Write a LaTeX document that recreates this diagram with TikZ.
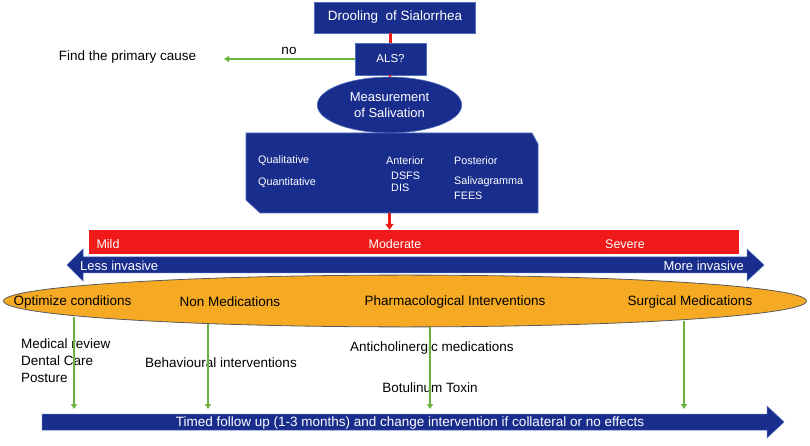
\documentclass[tikz,border=0pt]{standalone}
\usepackage{fontspec}
\setmainfont{Liberation Sans}
\usetikzlibrary{shapes.geometric,arrows.meta}
\definecolor{dblue}{RGB}{25,45,140}
\definecolor{bedge}{RGB}{80,110,190}
\definecolor{sred}{RGB}{240,26,26}
\definecolor{orng}{RGB}{246,170,36}
\definecolor{grn}{RGB}{108,178,62}
\newcommand\myfs[1]{\fontsize{#1bp}{1.2\dimexpr #1bp\relax}\selectfont}
\begin{document}
\begin{tikzpicture}[x=1bp,y=-1bp,
  bbox/.style={draw=bedge,line width=0.6bp,fill=dblue,text=white,inner sep=0pt},
  txt/.style={inner sep=0pt,font=\myfs{13.5}},
  wtxt/.style={inner sep=0pt,text=white},
  btxt/.style={inner sep=0pt,text=white,font=\myfs{10.8},anchor=west},
  garrow/.style={draw=grn,line width=2.2bp,-{Triangle[length=5bp,width=6bp]}},
  rline/.style={draw=sred,line width=2.2bp},
]
\useasboundingbox (0,0) rectangle (810,446);

% top boxes
\node[bbox,minimum width=162,minimum height=31,font=\myfs{13.5}] (drool) at (395,17.5) {Drooling~ of Sialorrhea};
\node[bbox,minimum width=71,minimum height=32,font=\myfs{11.5}] (als) at (390.5,59) {ALS?};
\node[bbox,ellipse,minimum width=145,minimum height=56,font=\myfs{13},align=center] (meas) at (389.5,105) {Measurement\\of Salivation};
\draw[rline] (als.north |- drool.south) -- (als.north);
\draw[rline] (als.south) -- (meas.north);

% "no" branch
\coordinate (nend) at (224,59);
\draw[garrow] (als.west) -- (nend);
\node[txt] (no) at (289,51) {no};
\node[txt] (find) at (127.5,57) {Find the primary cause};

% measurement methods box
\path[bbox] (246,133) -- (532,133) -- (538,144) -- (538,213) -- (260,213) -- (246,200) -- cycle;
\node[inner sep=0pt,minimum width=292,minimum height=80] (mbox) at (392,173) {};
\node[btxt] (qual) at (258,161) {Qualitative};
\node[btxt] (quan) at (258,183) {Quantitative};
\node[btxt] (ant) at (386,161) {Anterior};
\node[btxt] (dsfs) at (391,176) {DSFS};
\node[btxt] (dis) at (391,188) {DIS};
\node[btxt] (post) at (454,161) {Posterior};
\node[btxt] (saliv) at (454,182) {Salivagramma};
\node[btxt] (fees) at (454,196) {FEES};

% severity bar
\node[fill=sred,minimum width=652,minimum height=24,inner sep=0pt] (redbar) at (414,242) {};
\draw[rline,-{Triangle[length=6bp,width=8bp]}] (mbox.south -| meas) -- (redbar.north -| meas);
\node[wtxt,font=\myfs{12.5}] (mild) at (108,244) {Mild};
\node[wtxt,font=\myfs{12.5}] (mod) at (395,244) {Moderate};
\node[wtxt,font=\myfs{12.5}] (sev) at (625,244) {Severe};

% invasiveness double arrow
\path[fill=dblue,draw=bedge,line width=0.5bp] (67,265) -- (83,249) -- (83,257) -- (747,257) -- (747,249) -- (764,265) -- (747,281) -- (747,273) -- (83,273) -- (83,281) -- cycle;
\node[wtxt,font=\myfs{13},anchor=west] (less) at (80,266) {Less invasive};
\node[wtxt,font=\myfs{13},anchor=east] (more) at (744,266) {More invasive};

% options ellipse
\node[ellipse,draw=black!65,line width=0.8bp,fill=orng,minimum width=806,minimum height=52,inner sep=0pt] (opts) at (405,301) {};
\node[txt] (opt) at (72.5,302) {Optimize conditions};
\node[txt] (nonmed) at (230,302) {Non Medications};
\node[txt] (pharm) at (455,302) {Pharmacological Interventions};
\node[txt] (surg) at (690,302) {Surgical Medications};

% lower texts
\node[txt,anchor=west] (medrev) at (21,344) {Medical review};
\node[txt,anchor=west] (dental) at (21,361) {Dental Care};
\node[txt,anchor=west] (post2) at (21,378) {Posture};
\node[txt,anchor=west] (behav) at (145,363) {Behavioural interventions};
\node[txt,anchor=west] (antich) at (350,348) {Anticholinergic medications};
\node[txt] (botu) at (430,388) {Botulinum Toxin};

% follow-up arrow
\path[fill=dblue,draw=bedge,line width=0.5bp] (42,414) -- (767,414) -- (767,406) -- (784,422) -- (767,438) -- (767,430) -- (42,430) -- cycle;
\node[wtxt,font=\myfs{13.5}] (follow) at (410,423) {Timed follow up (1-3 months) and change intervention if collateral or no effects};

% green arrows
\coordinate (s1) at (74,317);
\coordinate (e1) at (74,409);
\coordinate (s2) at (208,324);
\coordinate (e2) at (208,409);
\coordinate (s3) at (430,327);
\coordinate (e3) at (430,409);
\coordinate (s4) at (684,321);
\coordinate (e4) at (684,409);
\draw[garrow] (s1) -- (e1);
\draw[garrow] (s2) -- (e2);
\draw[garrow] (s3) -- (e3);
\draw[garrow] (s4) -- (e4);
\end{tikzpicture}
\end{document}
